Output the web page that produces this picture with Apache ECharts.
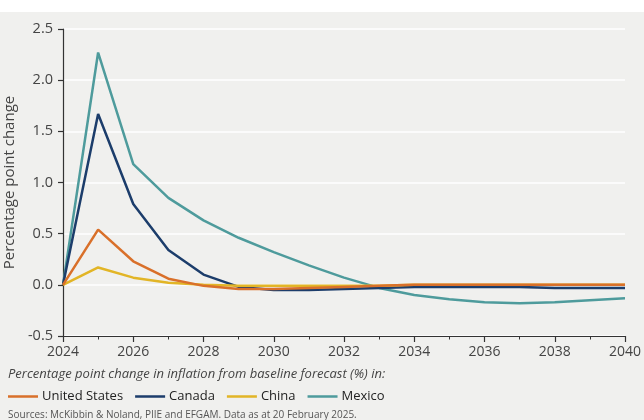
<!DOCTYPE html>
<html><head><meta charset="utf-8">
<script src="https://cdn.jsdelivr.net/npm/echarts@6/dist/echarts.min.js"></script>
<style>html,body{margin:0;padding:0;background:#fff}#c{width:644px;height:420px}</style>
</head><body><div id="c"></div>
<script>
const years = [2024,2025,2026,2027,2028,2029,2030,2031,2032,2033,2034,2035,2036,2037,2038,2039,2040];
const unitedStates = [0,0.54,0.23,0.06,-0.01,-0.04,-0.04,-0.03,-0.02,-0.01,0,0,0,0,0,0,0];
const canada = [0,1.67,0.79,0.34,0.10,-0.02,-0.05,-0.05,-0.04,-0.03,-0.02,-0.02,-0.02,-0.02,-0.03,-0.03,-0.03];
const china = [0,0.17,0.07,0.02,0.0,-0.01,-0.01,-0.01,-0.01,-0.01,0,0,0,0,0,0,0];
const mexico = [0,2.27,1.18,0.85,0.63,0.46,0.32,0.19,0.07,-0.03,-0.10,-0.14,-0.17,-0.18,-0.17,-0.15,-0.13];
const seriesNames = ['United States','Canada','China','Mexico'];
const colors = ['#d9702a','#1c3d6b','#e2b526','#4e9b9c'];
const font = 'Open Sans';
const chart = echarts.init(document.getElementById('c'));
const mk = (name, data, i) => ({
  name, type:'line', data: years.map((y,k)=>[y,data[k]]), symbol:'none',
  lineStyle:{width:2.5,color:colors[i]}, itemStyle:{color:colors[i]}, z: 5
});
chart.setOption({
  animation:false,
  textStyle:{fontFamily:font},
  graphic:[{type:'rect',shape:{x:0,y:12,width:644,height:408},style:{fill:'#f0f0ee'},z:-10,silent:true}],
  title:[
    {text:'Percentage point change in inflation from baseline forecast (%) in:',left:8,top:368,padding:0,
     textStyle:{fontFamily:font,fontStyle:'italic',fontWeight:'normal',fontSize:13,color:'#444'}},
    {text:'Sources: McKibbin & Noland, PIIE and EFGAM. Data as at 20 February 2025.',left:8,top:410,padding:0,
     textStyle:{fontFamily:font,fontWeight:'normal',fontSize:10,color:'#555'}}
  ],
  legend:{left:8,top:390,padding:0,itemWidth:30,itemHeight:2.5,itemGap:12,icon:'rect',
    textStyle:{fontFamily:font,fontSize:13,color:'#222',padding:[0,0,0,-1]},data:seriesNames},
  grid:{left:63,right:19,top:29,bottom:84,outerBoundsMode:'none',containLabel:false},
  xAxis:{type:'value',min:2024,max:2040,interval:2,
    axisLine:{onZero:false,lineStyle:{color:'#333',width:1.2}},
    axisTick:{show:true,length:6,lineStyle:{color:'#333',width:1.2}},
    minorTick:{show:true,splitNumber:2,length:3.5,lineStyle:{color:'#333'}},
    splitLine:{show:false},
    axisLabel:{color:'#444',fontSize:14,margin:9,fontFamily:font,formatter:v=>String(v)}},
  yAxis:{type:'value',min:-0.5,max:2.5,interval:0.5,
    name:'Percentage point change',nameLocation:'middle',nameGap:45,
    nameTextStyle:{fontFamily:font,fontSize:15,color:'#444'},
    axisLine:{show:true,lineStyle:{color:'#333',width:1.2}},
    axisTick:{show:true,length:5,lineStyle:{color:'#333',width:1.2}},
    splitLine:{lineStyle:{color:'#ffffff',width:1.5}},
    axisLabel:{color:'#444',fontSize:14.5,margin:10,fontFamily:font,formatter:v=>v.toFixed(1)}},
  series:[mk('Mexico',mexico,3),mk('Canada',canada,1),mk('China',china,2),mk('United States',unitedStates,0)]
});
</script></body></html>
